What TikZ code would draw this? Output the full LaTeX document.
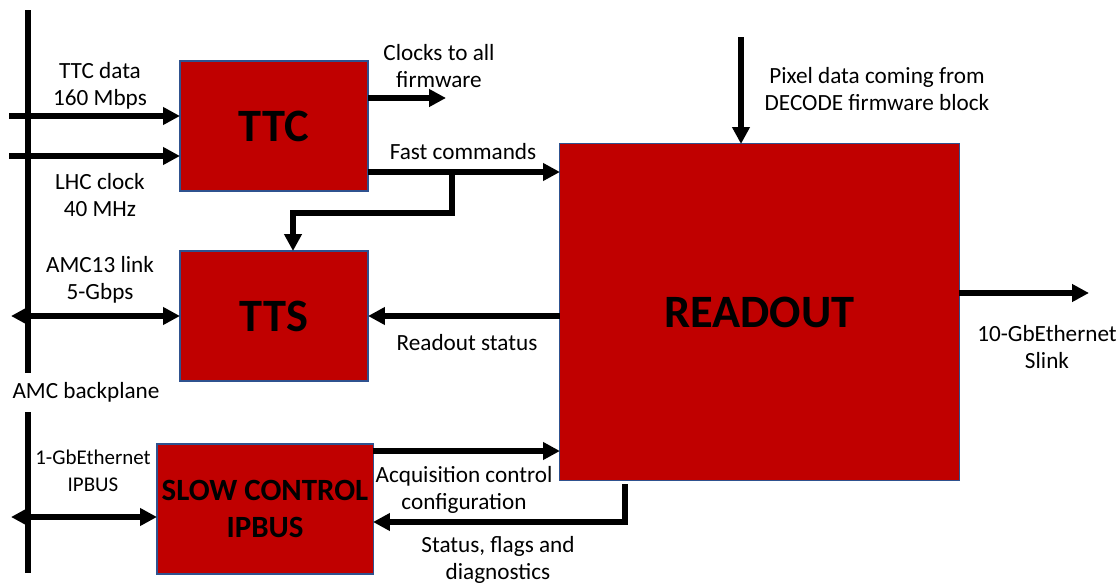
\documentclass[tikz,border=0pt]{standalone}
\usepackage{fontspec}
\setmainfont{Carlito}
\usetikzlibrary{arrows.meta}
\definecolor{boxred}{HTML}{C00000}
\definecolor{boxline}{HTML}{2F528F}

\begin{document}
\begin{tikzpicture}[x=0.025cm, y=-0.025cm, line join=miter,
  every node/.style={align=center, inner sep=0pt, outer sep=0pt, font=\fontsize{16.5}{19.2}\selectfont},
  block/.style={draw=boxline, line width=0.75pt, fill=boxred, font=\fontsize{33}{40}\selectfont\bfseries},
  arr/.style={line width=3.6pt, -{Triangle[length=12pt, width=12pt]}},
  biarr/.style={line width=3.6pt, {Triangle[length=12pt, width=12pt]}-{Triangle[length=12pt, width=12pt]}},
  bus/.style={line width=4.3pt}]
  \useasboundingbox (0,0) rectangle (1120,585);

  % blocks
  \node[block, minimum width=4.7cm, minimum height=3.25cm] (ttc) at (274,126) {TTC};
  \node[block, minimum width=4.7cm, minimum height=3.25cm] (tts) at (274,316) {TTS};
  \node[block, minimum width=5.4cm, minimum height=3.25cm, font=\fontsize{22}{26.3}\selectfont\bfseries] (slow) at (265,509) {SLOW CONTROL\\IPBUS};
  \node[block, minimum width=9.975cm, minimum height=8.4cm] (readout) at (759.5,312) {READOUT};

  % backplane
  \draw[bus] (28,10) -- (28,373);
  \draw[bus] (28,412) -- (28,573);
  \node (backplane) at (86,392) {AMC backplane};

  % labels
  \node (ttcdata) at (100,86) {TTC data\\160 Mbps};
  \node (lhcclk) at (100,195) {LHC clock\\40 MHz};
  \node (amclink) at (100,280) {AMC13 link\\5-Gbps};
  \node[font=\fontsize{14.9}{19.2}\selectfont] (gbe) at (93,471) {1-GbEthernet\\IPBUS};
  \node (clocks) at (439,66) {Clocks to all\\firmware};
  \node (fastcmd) at (463,152) {Fast commands};
  \node (rdstatus) at (467,343) {Readout status};
  \node (acqctrl) at (464,490) {Acquisition control\\configuration};
  \node (stflags) at (498,560) {Status, flags and\\diagnostics};
  \node (pixel) at (877,89) {Pixel data coming from\\DECODE firmware block};
  \node (slink) at (1047,347) {10-GbEthernet\\Slink};

  % connector ends
  \coordinate (ttcdin) at (9,116);
  \coordinate (lhcin) at (9,156);
  \coordinate (amcend) at (11,316);
  \coordinate (gbeend) at (11,517);
  \coordinate (clkout) at (446,98);
  \coordinate (fcsplit) at (452,172);
  \coordinate (ttsin) at (293,213);
  \coordinate (pixin) at (741,37);
  \coordinate (slinkout) at (1089,293);
  \coordinate (acqlevel) at (400,451);
  \coordinate (sttop) at (625,484);
  \coordinate (stcorner) at (625,522);

  % connectors
  \draw[arr] (ttcdin) -- (ttcdin -| ttc.west);
  \draw[arr] (lhcin) -- (lhcin -| ttc.west);
  \draw[biarr] (amcend) -- (amcend -| tts.west);
  \draw[biarr] (gbeend) -- (gbeend -| slow.west);
  \draw[arr] (clkout -| ttc.east) -- (clkout);
  \draw[arr] (fcsplit -| ttc.east) -- (fcsplit -| readout.west);
  \draw[arr] (fcsplit) |- (ttsin) -- (ttsin |- tts.north);
  \draw[arr] (pixin) -- (pixin |- readout.north);
  \draw[arr] (tts.east -| readout.west) -- (tts.east);
  \draw[arr] (slinkout -| readout.east) -- (slinkout);
  \draw[arr] (acqlevel -| slow.east) -- (acqlevel -| readout.west);
  \draw[arr] (sttop) -- (stcorner) -- (stcorner -| slow.east);
\end{tikzpicture}
\end{document}
